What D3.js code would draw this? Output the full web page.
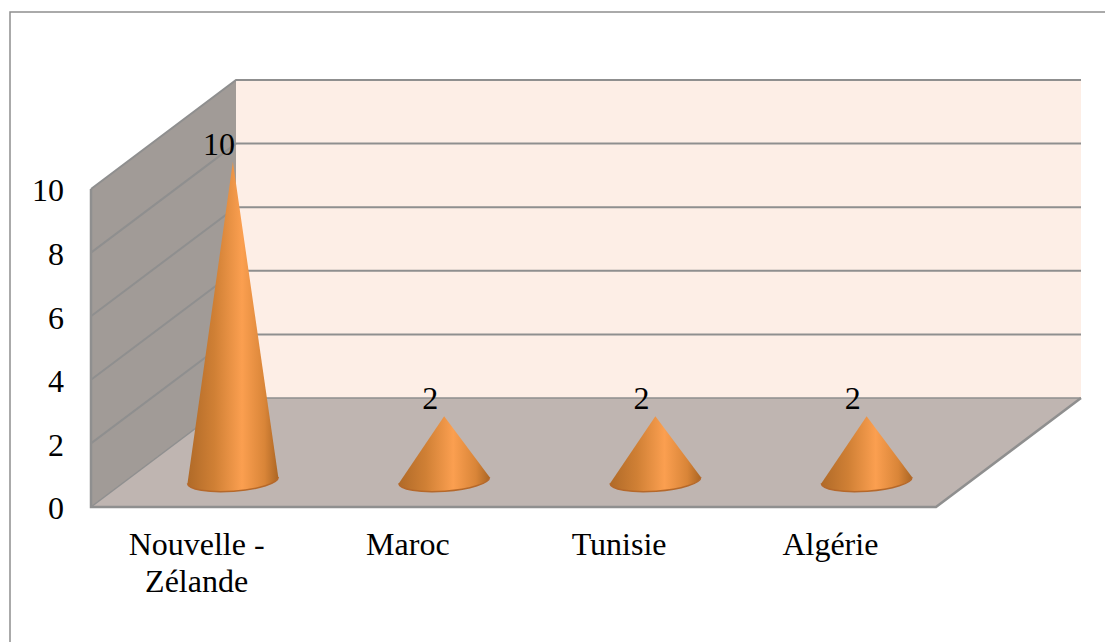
<!DOCTYPE html>
<html>
<head>
<meta charset="utf-8">
<script src="https://cdn.jsdelivr.net/npm/d3@7"></script>
<style>
  html, body { margin: 0; padding: 0; background: #fff; overflow: hidden; }
  text { font-family: "Liberation Serif", serif; fill: #000; }
</style>
</head>
<body>
<div id="chart"></div>
<script>
// données du graphique
var categories = ["Nouvelle - Zélande", "Maroc", "Tunisie", "Algérie"];
var valeurs = [10, 2, 2, 2];
var yTicks = [0, 2, 4, 6, 8, 10];

var width = 1105, height = 642;
var fontSize = 32;

// boîte avant du graphique et décalage de la profondeur 3D
var left = 91, right = 936, bottom = 507, top_ = 189;
var depthX = 145, depthY = -109;

var x = d3.scaleBand().domain(categories).range([left, right]);
var y = d3.scaleLinear().domain([0, 10]).range([bottom, top_]);

var svg = d3.select("#chart").append("svg")
    .attr("width", width)
    .attr("height", height)
    .style("display", "block");

// dégradé du cône
var grad = svg.append("defs").append("linearGradient")
    .attr("id", "cone")
    .attr("x1", "0").attr("x2", "1").attr("y1", "0").attr("y2", "0");
[[0, "#b06a28"], [0.3, "#d08035"], [0.6, "#fb9f50"], [0.85, "#d98538"], [1, "#ac6624"]].forEach(function(s) {
  grad.append("stop").attr("offset", s[0]).attr("stop-color", s[1]);
});

// cadre
svg.append("rect")
    .attr("x", 10).attr("y", 12)
    .attr("width", width + 20).attr("height", height + 20)
    .attr("fill", "#fff")
    .attr("stroke", "#8e8e8e")
    .attr("stroke-width", 1.5);

var poly = function(pts) { return pts.map(function(p) { return p.join(","); }).join(" "); };
var line = "#8f8f8f";

// mur du fond
svg.append("polygon")
    .attr("points", poly([[left + depthX, y(10) + depthY], [right + depthX, y(10) + depthY], [right + depthX, y(0) + depthY], [left + depthX, y(0) + depthY]]))
    .attr("fill", "#fdeee6");

// mur de gauche
svg.append("polygon")
    .attr("points", poly([[left, y(0)], [left, y(10)], [left + depthX, y(10) + depthY], [left + depthX, y(0) + depthY]]))
    .attr("fill", "#a19b97");

// sol
svg.append("polygon")
    .attr("points", poly([[left, y(0)], [right, y(0)], [right + depthX, y(0) + depthY], [left + depthX, y(0) + depthY]]))
    .attr("fill", "#bfb5b1");

// lignes de la grille
yTicks.forEach(function(t) {
  svg.append("polyline")
      .attr("points", poly([[left, y(t)], [left + depthX, y(t) + depthY], [right + depthX, y(t) + depthY]]))
      .attr("fill", "none")
      .attr("stroke", line)
      .attr("stroke-width", t == 0 ? 1.5 : 2);
});

// contour du sol et axe vertical
svg.append("polyline")
    .attr("points", poly([[left, y(10)], [left, y(0)], [right, y(0)], [right + depthX, y(0) + depthY]]))
    .attr("fill", "none")
    .attr("stroke", line)
    .attr("stroke-width", 2.5);

// les cônes
var rx = 45.5, ry = 11, tilt = -4;
var cos = Math.cos(tilt * Math.PI / 180), sin = Math.sin(tilt * Math.PI / 180);
var data = categories.map(function(c, i) { return { name: c, value: valeurs[i] }; });
var shiftX = depthX / 4, shiftY = depthY / 4;

var cones = svg.append("g").selectAll("g")
    .data(data)
  .enter().append("g")
    .attr("transform", function(d) {
      return "translate(" + (x(d.name) + x.bandwidth() / 2 + shiftX) + "," + (y(0) + shiftY) + ")";
    });

cones.append("path")
    .attr("d", function(d) {
      var h = y(d.value) - y(0);
      return "M" + (-rx * cos) + "," + (-rx * sin + 0.5)
        + "L0," + h
        + "L" + (rx * cos) + "," + (rx * sin + 0.5)
        + "A" + rx + "," + ry + "," + tilt + ",1,1," + (-rx * cos) + "," + (-rx * sin + 0.5) + "Z";
    })
    .attr("fill", "url(#cone)");

// bord inférieur plus sombre
cones.append("path")
    .attr("d", "M" + (rx * cos) + "," + (rx * sin + 0.5)
      + "A" + rx + "," + ry + "," + tilt + ",1,1," + (-rx * cos) + "," + (-rx * sin + 0.5))
    .attr("fill", "none")
    .attr("stroke", "#b5682a")
    .attr("stroke-width", 1.5);

// étiquettes de données
cones.append("text")
    .attr("x", -14)
    .attr("y", function(d) { return y(d.value) - y(0) - 7; })
    .attr("text-anchor", "middle")
    .attr("font-size", fontSize)
    .text(function(d) { return d.value; });

// axe vertical
var axisY = svg.append("g")
    .attr("transform", "translate(" + left + ",0)")
    .call(d3.axisLeft(y).tickValues(yTicks).tickSize(0).tickPadding(27));
axisY.select(".domain").remove();
axisY.selectAll("text")
    .attr("font-size", fontSize)
    .attr("dy", "0.37em")
    .style("font-family", '"Liberation Serif", serif');

// axe horizontal, le premier libellé est sur deux lignes
var labels = svg.append("g").selectAll("text")
    .data(categories)
  .enter().append("text")
    .attr("text-anchor", "middle")
    .attr("font-size", fontSize)
    .attr("y", 555);

labels.each(function(c) {
  var t = d3.select(this);
  var cx = x(c) + x.bandwidth() / 2;
  var parts = c == "Nouvelle - Zélande" ? ["Nouvelle -", "Zélande"] : [c];
  parts.forEach(function(p, i) {
    t.append("tspan").attr("x", cx).attr("dy", i == 0 ? 0 : 37).text(p);
  });
});
</script>
</body>
</html>
